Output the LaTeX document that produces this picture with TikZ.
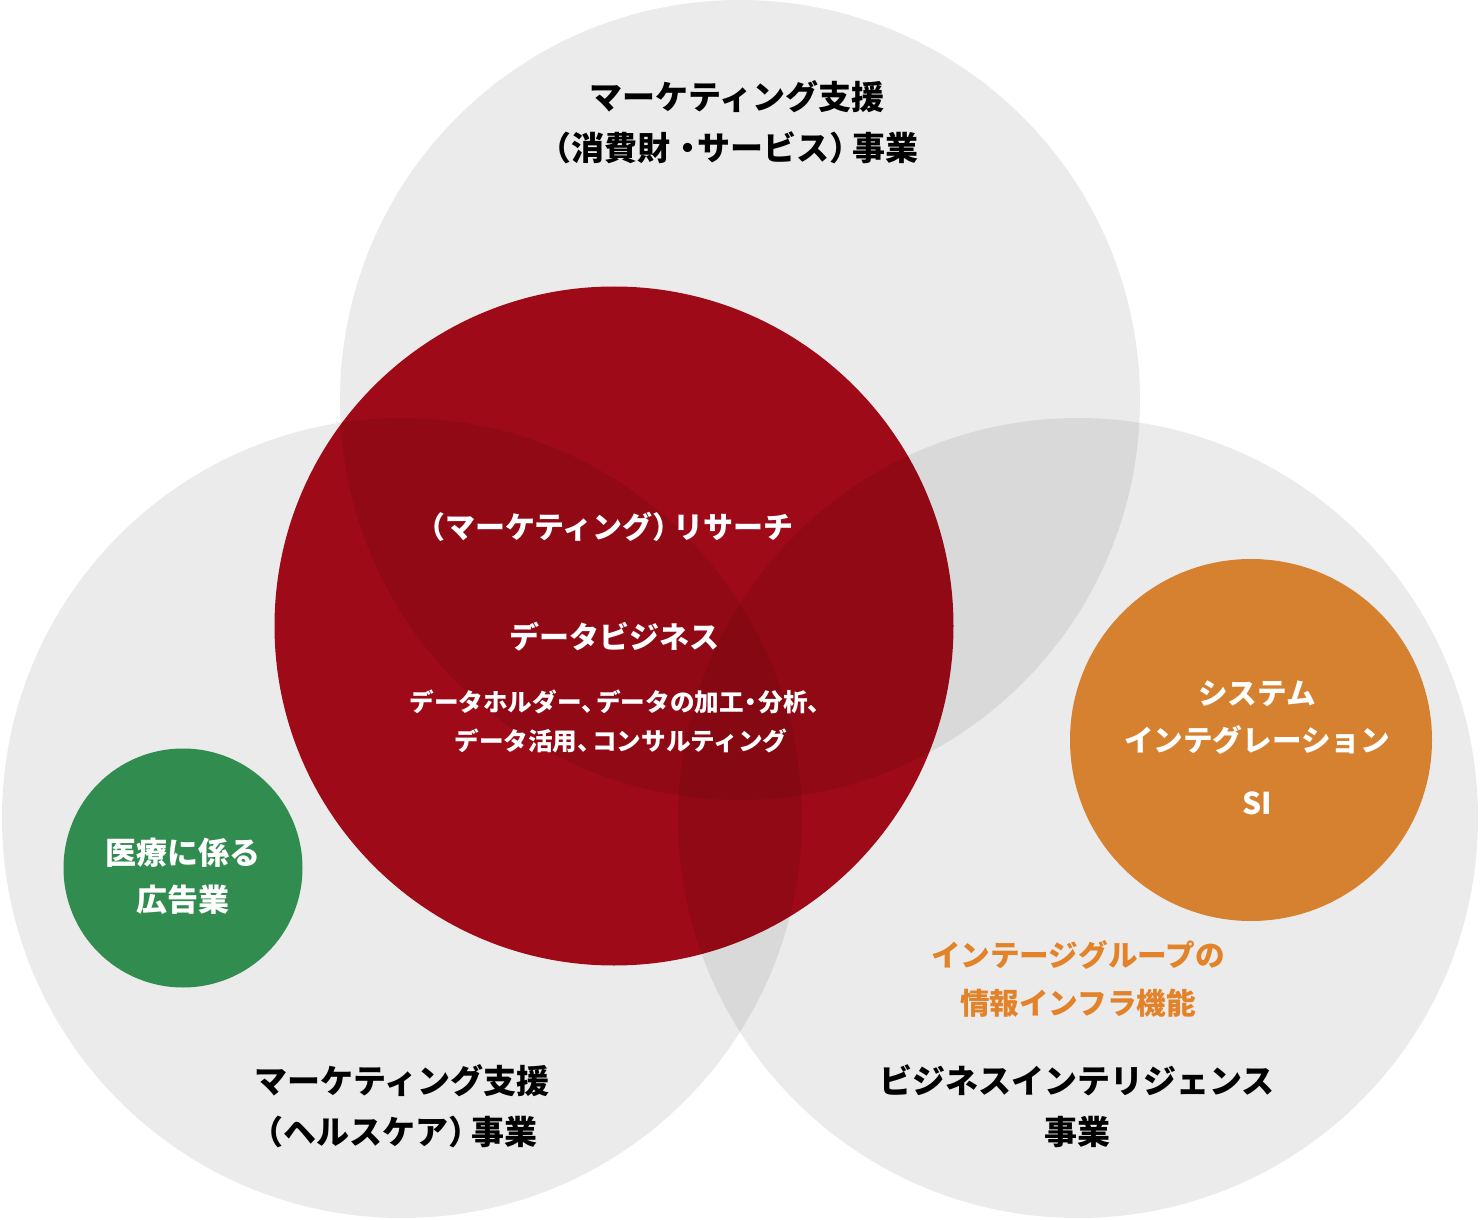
\documentclass[tikz,border=0pt]{standalone}
\usepackage{fontspec}
\setmainfont{Noto Sans CJK JP}
\usetikzlibrary{calc}

\definecolor{datared}{RGB}{172,11,26}
\definecolor{medgreen}{RGB}{49,140,79}
\definecolor{siorange}{RGB}{214,129,48}
\definecolor{infoorange}{RGB}{226,131,42}

%narrow punctuation
\def\lk{\kern-0.5em}
\def\pk{\kern-0.3em}
\def\dk{\kern-0.2em}

\begin{document}
\begin{tikzpicture}[x=0.5pt, y=-0.5pt,
		business/.style={font=\bfseries\fontsize{16.5}{25.5}\selectfont, align=center, text=black},
		inner/.style={font=\bfseries\fontsize{#1}{23.5}\selectfont, align=center, text=white},
		inner/.default=15]
		\useasboundingbox (0,0) rectangle (1480,1220);
		
		%variables
		\def\R{200pt};
		\def\r{169.75pt};
		
		%coordinates
		\coordinate (top) at (740,400);
		\coordinate (left) at (402,818);
		\coordinate (right) at (1078,818);
		\coordinate (data) at (614,626);
		
		%circles
		\fill [datared] (data) circle [radius = \r];
		\foreach \c in {top, left, right}
			\fill [black, fill opacity = 0.08] (\c) circle [radius = \R];
		\fill [medgreen] (183,868) circle [radius = 59.75pt];
		\fill [siorange] (1251,740) circle [radius = 90.5pt];
		
		%business labels
		\node [business] (marketing) at (737,122) {マーケティング支援\\\lk（消費財 \dk・\dk サービス）\pk 事業};
		\node [business] (health) at (402,1106) {マーケティング支援\\\lk（ヘルスケア）\pk 事業};
		\node [business] (bi) at (1077,1106) {ビジネスインテリジェンス\\事業};
		
		%data business
		\node [inner] (research) at (612,527) {\lk（マーケティング）\pk リサーチ};
		\node [inner] (databiz) at (614,637) {データビジネス};
		\node [font=\bfseries\fontsize{12.3}{19.5}\selectfont, align=center, text=white] (datadetail) at (621,721)
			{データホルダー、\kern-0.4em データの加工\dk・\dk 分析、\\データ活用、\kern-0.4em コンサルティング};
		
		%small circles
		\node [inner=15.5] (medical) at (183,876) {医療に係る\\広告業};
		\node [inner=14.8] (si) at (1257,718) {システム\\インテグレーション};
		\node [inner=15] (siabbr) at (1257,803) {SI};
		\node [font=\bfseries\fontsize{14.8}{24}\selectfont, align=center, text=infoorange] (infra) at (1078,979)
			{インテージグループの\\情報インフラ機能};
	\end{tikzpicture}
\end{document}
